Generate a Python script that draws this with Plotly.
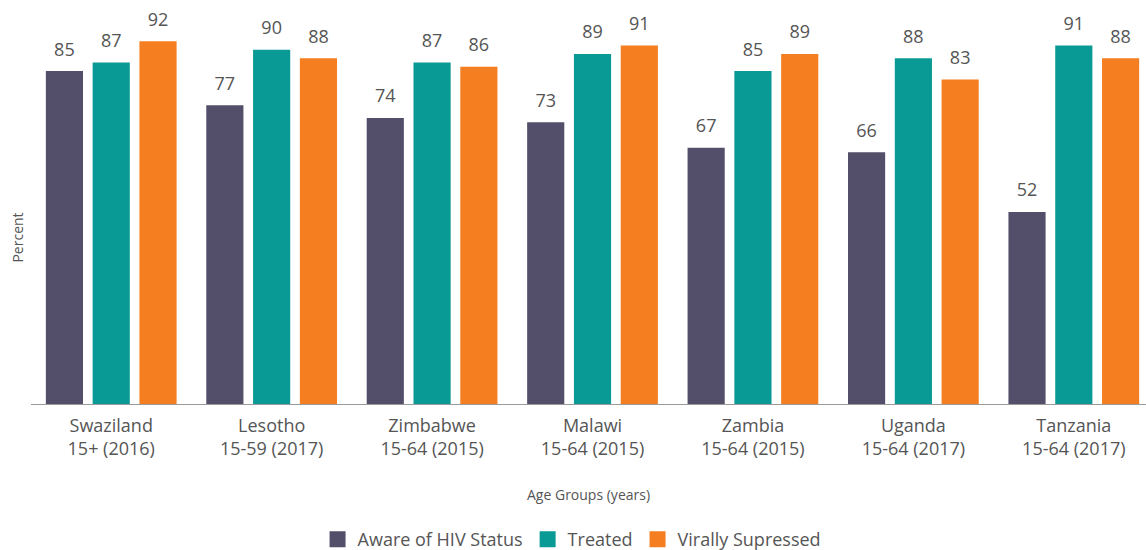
import plotly.graph_objects as go

COUNTRIES = ["Swaziland", "Lesotho", "Zimbabwe", "Malawi", "Zambia", "Uganda", "Tanzania"]
AGE_GROUPS = ["15+ (2016)", "15-59 (2017)", "15-64 (2015)", "15-64 (2015)",
              "15-64 (2015)", "15-64 (2017)", "15-64 (2017)"]
AWARE = [85, 77, 74, 73, 67, 66, 52]
TREATED = [87, 90, 87, 89, 85, 88, 91]
SUPPRESSED = [92, 88, 86, 91, 89, 83, 88]

SERIES = [
    ("Aware of HIV Status", AWARE, "#534F6A"),
    ("Treated", TREATED, "#0A9A95"),
    ("Virally Supressed", SUPPRESSED, "#F47E20"),
]

FONT = "Open Sans, Noto Sans, sans-serif"
GREY = "#555555"
BARGAP = 0.125

labels = [f"{c}<br>{a}" for c, a in zip(COUNTRIES, AGE_GROUPS)]

fig = go.Figure()
for name, vals, color in SERIES:
    fig.add_trace(go.Bar(
        x=labels, y=vals, name=name, offsetgroup=name,
        marker=dict(color=color, line=dict(width=0)),
        showlegend=False,
    ))
# value labels, grouped like the bars, lifted by an invisible marker
for name, vals, color in SERIES:
    fig.add_trace(go.Scatter(
        x=labels, y=vals, offsetgroup=name, mode="markers+text",
        text=[str(v) for v in vals], textposition="top center",
        marker=dict(size=16, opacity=0),
        textfont=dict(size=18, color=GREY, family=FONT),
        showlegend=False, hoverinfo="skip", cliponaxis=False,
    ))
# legend entries with larger square swatches
for name, vals, color in SERIES:
    fig.add_trace(go.Scatter(
        x=[None], y=[None], name=name, offsetgroup=name, mode="markers",
        marker=dict(symbol="square", size=16, color=color),
    ))

fig.add_annotation(
    text="Age Groups (years)", x=0.5, y=-0.229, xref="paper", yref="paper",
    yanchor="middle", showarrow=False, font=dict(size=14, color=GREY, family=FONT),
)
fig.add_annotation(
    text="Percent", x=-0.0121, y=0.418, xref="paper", yref="paper",
    xanchor="center", yanchor="middle", textangle=-90, showarrow=False,
    font=dict(size=14, color=GREY, family=FONT),
)

fig.update_layout(
    width=1146, height=550,
    margin=dict(l=31, r=0, t=7, b=146, autoexpand=False),
    plot_bgcolor="white", paper_bgcolor="white",
    barmode="group", bargap=BARGAP, bargroupgap=0.206,
    scattermode="group", scattergap=BARGAP,
    font=dict(family=FONT, color=GREY, size=16),
    showlegend=True,
    legend=dict(
        orientation="h", x=0.257, xanchor="left", y=-0.388, yanchor="bottom",
        font=dict(size=18, color=GREY, family=FONT),
    ),
)
fig.update_xaxes(
    range=[-0.5, 6.45], showline=True, linecolor="#9a9a9a", linewidth=1,
    ticks="", tickfont=dict(size=18, color=GREY, family=FONT),
    ticklabelstandoff=5, showgrid=False, automargin=False,
)
fig.update_yaxes(
    range=[7, 100], showticklabels=False, showgrid=False, zeroline=False,
    showline=False, ticks="", automargin=False,
)

fig.write_html("out.html", config={"displayModeBar": False},
               post_script="document.body.style.margin = '0';")
